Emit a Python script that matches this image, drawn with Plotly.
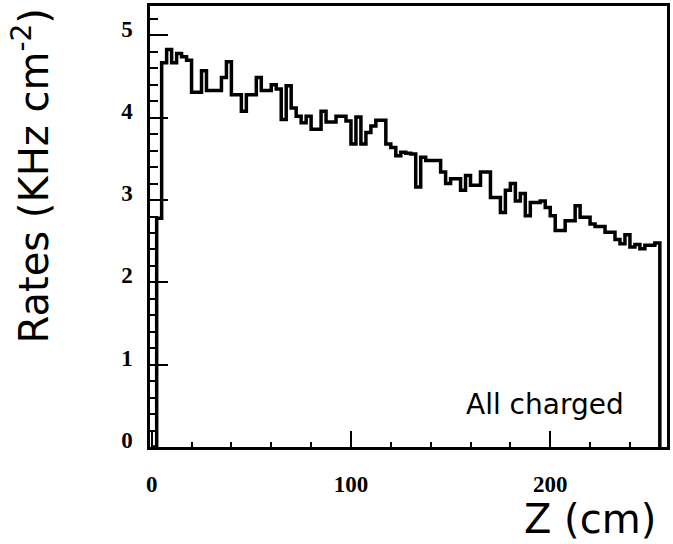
import plotly.graph_objects as go

# Histogram: rate of all charged particles vs Z, bins of 2.5 cm
bin_width = 2.5
rates = [0, 2.78, 4.67, 4.83, 4.67, 4.78, 4.74, 4.70, 4.31, 4.31,
         4.57, 4.33, 4.33, 4.33, 4.49, 4.68, 4.28, 4.28, 4.08, 4.28,
         4.28, 4.49, 4.33, 4.33, 4.40, 4.35, 3.98, 4.39, 4.12, 4.02,
         3.94, 4.02, 3.86, 3.86, 4.08, 3.95, 3.95, 4.02, 4.02, 3.96,
         3.68, 4.01, 3.68, 3.82, 3.90, 3.97, 3.97, 3.68, 3.64, 3.54,
         3.58, 3.57, 3.56, 3.16, 3.52, 3.48, 3.48, 3.48, 3.34, 3.20,
         3.26, 3.26, 3.12, 3.30, 3.18, 3.18, 3.34, 3.34, 3.03, 3.03,
         2.85, 3.12, 3.20, 2.99, 3.08, 2.81, 2.97, 2.97, 2.99, 2.91,
         2.81, 2.63, 2.63, 2.75, 2.75, 2.93, 2.79, 2.79, 2.71, 2.68,
         2.68, 2.61, 2.61, 2.52, 2.47, 2.58, 2.43, 2.46, 2.41, 2.45,
         2.45, 2.48]

x_tickvals = [0, 100, 200]
y_tickvals = [0, 1, 2, 3, 4, 5]

edges = [i * bin_width for i in range(len(rates) + 1)]
xs = edges
ys = rates + [0]

fig = go.Figure()
fig.add_trace(go.Scatter(
    x=xs, y=ys, mode="lines", line=dict(shape="hv", color="black", width=3.5),
    showlegend=False, hoverinfo="skip"))

tick_font = dict(family="Liberation Serif", size=23, color="black", weight="bold")
label_font = "DejaVu Sans"

fig.update_layout(
    width=673, height=544,
    margin=dict(l=150, r=3, t=5, b=97),
    paper_bgcolor="white", plot_bgcolor="white",
    xaxis=dict(
        range=[-0.85, 258.6], showgrid=False, zeroline=False,
        showline=True, mirror=True, linecolor="black", linewidth=2.5,
        tickmode="array", tickvals=x_tickvals,
        ticks="inside", ticklen=16, tickwidth=1.5, tickcolor="black",
        minor=dict(dtick=20, ticks="inside", ticklen=5, tickwidth=1.5, tickcolor="black"),
        tickfont=tick_font, ticklabelstandoff=15,
    ),
    yaxis=dict(
        range=[0, 5.358], showgrid=False, zeroline=False,
        showline=True, mirror=True, linecolor="black", linewidth=2.5,
        tickmode="array", tickvals=y_tickvals,
        ticks="inside", ticklen=18, tickwidth=1.5, tickcolor="black",
        minor=dict(dtick=0.2, ticks="inside", ticklen=8, tickwidth=1.5, tickcolor="black"),
        tickfont=tick_font, ticklabelstandoff=10, ticklabelshift=-7,
    ),
    annotations=[
        dict(text="Rates (KHz cm<sup>-2</sup>)", textangle=-90,
             xref="paper", yref="paper", x=-0.2308, y=0.615,
             xanchor="center", yanchor="middle", showarrow=False,
             font=dict(family=label_font, size=40, color="black")),
        dict(text="Z (cm)", xref="paper", yref="paper", x=0.852, y=-0.164,
             xanchor="center", yanchor="middle", showarrow=False,
             font=dict(family=label_font, size=40, color="black")),
        dict(text="All charged", xref="paper", yref="paper", x=0.7635, y=0.0973,
             xanchor="center", yanchor="middle", showarrow=False,
             font=dict(family=label_font, size=28, color="black")),
    ],
)

fig.write_html("out.html")
